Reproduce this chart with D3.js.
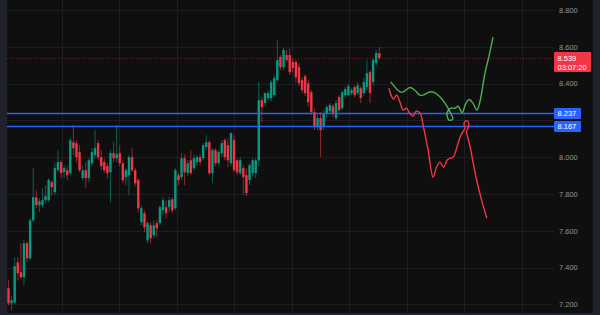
<!DOCTYPE html>
<html><head><meta charset="utf-8">
<script src="https://cdn.jsdelivr.net/npm/d3@7"></script>
<style>html,body{margin:0;padding:0;background:#0f0f0f;overflow:hidden}</style>
</head><body><svg id="c" width="600" height="315"></svg>
<script>
// ---- data ----
const opens=[7.287,7.205,7.211,7.428,7.374,7.347,7.532,7.450,7.657,7.782,
7.739,7.739,7.766,7.766,7.864,7.809,7.929,7.973,7.918,7.929,
7.913,8.081,8.076,8.027,7.886,7.929,7.886,7.967,8.011,8.076,
8.000,7.973,7.951,7.918,8.022,7.994,8.022,7.967,7.891,7.902,
8.000,7.929,7.875,7.646,7.695,7.548,7.630,7.575,7.641,7.641,
7.711,7.728,7.728,7.771,7.722,7.902,7.891,7.994,7.913,7.983,
7.940,7.973,8.000,7.994,8.054,8.081,7.913,8.038,7.967,8.022,
8.092,8.065,7.967,8.092,7.983,7.913,7.940,7.902,7.875,7.913,
7.913,7.983,8.310,8.294,8.321,8.321,8.337,8.419,8.544,8.489,
8.555,8.555,8.517,8.517,8.489,8.419,8.440,8.402,8.353,8.245,
8.163,8.212,8.163,8.239,8.250,8.277,8.212,8.326,8.266,8.337,
8.337,8.348,8.381,8.348,8.375,8.348,8.381,8.462,8.408,8.511,
8.566];
const closes=[7.205,7.222,7.407,7.369,7.347,7.532,7.450,7.657,7.782,7.739,
7.760,7.766,7.788,7.875,7.837,7.940,7.973,7.913,7.940,7.902,
8.092,8.049,8.000,7.929,7.929,7.886,7.983,8.027,8.049,8.000,
7.951,7.929,7.913,8.022,7.994,8.016,7.967,7.875,7.929,8.000,
7.929,7.858,7.722,7.722,7.619,7.641,7.559,7.630,7.613,7.728,
7.766,7.695,7.766,7.711,7.929,7.875,7.994,7.918,7.967,7.913,
7.994,8.000,7.973,8.065,8.081,7.913,8.038,7.967,8.027,8.076,
8.000,7.983,8.130,7.929,7.918,7.983,7.891,7.804,7.956,7.983,
7.983,8.310,8.272,8.348,8.348,8.408,8.430,8.528,8.489,8.582,
8.528,8.462,8.484,8.435,8.402,8.364,8.348,8.299,8.245,8.163,
8.212,8.147,8.239,8.272,8.283,8.239,8.294,8.256,8.353,8.370,
8.386,8.364,8.337,8.391,8.321,8.408,8.457,8.348,8.528,8.566,
8.539];
const highs=[7.330,7.243,7.456,7.456,7.532,7.548,7.543,7.668,7.940,7.820,
7.777,7.831,7.847,7.886,7.875,7.967,8.038,7.983,7.956,7.951,
8.103,8.174,8.092,8.065,7.956,7.973,7.994,8.049,8.147,8.092,
8.038,7.994,7.967,8.038,8.081,8.174,8.065,7.983,7.940,8.011,
8.049,7.940,7.886,7.739,7.711,7.652,7.646,7.657,7.657,7.739,
7.782,7.766,7.782,7.782,7.940,7.918,8.022,8.016,7.983,8.038,
8.011,8.011,8.016,8.076,8.119,8.092,8.049,8.049,8.038,8.092,
8.103,8.103,8.136,8.119,7.994,8.000,7.956,7.940,7.967,7.994,
7.994,8.408,8.326,8.353,8.364,8.419,8.446,8.636,8.555,8.593,
8.582,8.593,8.538,8.528,8.511,8.435,8.451,8.419,8.364,8.266,
8.228,8.245,8.256,8.283,8.294,8.288,8.310,8.337,8.364,8.381,
8.397,8.375,8.391,8.408,8.386,8.430,8.528,8.473,8.538,8.582,
8.598];
const lows=[7.195,7.167,7.200,7.330,7.336,7.303,7.428,7.439,7.646,7.722,
7.700,7.728,7.749,7.755,7.793,7.798,7.918,7.886,7.886,7.875,
7.902,8.011,7.973,7.918,7.875,7.831,7.864,7.951,7.994,7.983,
7.929,7.913,7.886,7.755,7.973,7.973,7.951,7.858,7.847,7.793,
7.918,7.842,7.700,7.630,7.592,7.532,7.532,7.559,7.565,7.630,
7.684,7.668,7.700,7.695,7.711,7.847,7.875,7.847,7.896,7.902,
7.929,7.956,7.956,7.983,8.038,7.902,7.858,7.951,7.956,8.005,
7.983,7.945,7.951,7.918,7.902,7.902,7.793,7.788,7.847,7.896,
7.886,7.951,8.190,8.277,8.310,8.304,8.326,8.408,8.473,8.473,
8.517,8.446,8.462,8.408,8.386,8.348,8.332,8.277,8.228,8.147,
8.147,8.000,8.147,8.212,8.239,8.218,8.201,8.245,8.256,8.321,
8.332,8.337,8.326,8.337,8.294,8.332,8.364,8.294,8.391,8.500,
8.528];
// hand-drawn projection paths (bar index, price)
const greenIdx=[123.7,126.7,127.8,129.9,131.5,133.1,134.2,136.4,138.0,139.6,141.3,142.9,143.8,142.6,141.9,143.2,144.5,145.5,146.8,147.9,149.0,150.3,151.6,152.6,154.2,155.5,156.8];
const greenPx=[8.409,8.355,8.355,8.379,8.364,8.337,8.337,8.355,8.350,8.328,8.292,8.245,8.207,8.201,8.239,8.266,8.266,8.277,8.242,8.288,8.313,8.294,8.256,8.304,8.457,8.549,8.653];
const redIdx=[123.1,123.8,124.6,125.6,126.7,127.7,128.8,129.8,130.9,132.0,133.2,134.3,135.8,137.4,138.5,139.6,140.8,141.9,142.9,143.9,145.5,146.4,147.7,147.4,148.2,149.0,148.7,148.2,148.7,149.4,151.5,153.1,154.8];
const redPx=[8.375,8.337,8.315,8.337,8.299,8.256,8.266,8.239,8.223,8.250,8.239,8.163,8.038,7.891,7.945,7.973,7.945,7.983,7.994,8.000,8.076,8.119,8.158,8.185,8.198,8.185,8.158,8.141,8.103,8.054,7.875,7.766,7.668];
const levels=[8.237,8.167];
const yTicks=[7.2,7.4,7.6,7.8,8.0,8.2,8.4,8.6,8.8];
const timeGrid=[17.3,35.9,54.5,73.1,91.7,110.3,128.9,147.5,166.1];
const lastPrice=8.539, countdown="03:07:20";

// ---- drawing ----
const W=600,H=315, plotL=7, plotR=593, gridR=553, plotB=313;
const UP="#089981", DN="#f23645";
const svg=d3.select("#c");
const x=d3.scaleLinear().domain([0,120]).range([8.5,379.3]);
const y=d3.scaleLinear().domain([7.2,8.8]).range([304.3,10]);
const font="'Liberation Sans', Arial, sans-serif";

svg.append("rect").attr("width",W).attr("height",H).attr("fill","#0f0f0f");

const grid=svg.append("g").attr("stroke","#1d1e22").attr("stroke-width",1);
grid.selectAll(".h").data(yTicks).join("line")
  .attr("x1",plotL).attr("x2",gridR)
  .attr("y1",d=>Math.round(y(d))+0.5).attr("y2",d=>Math.round(y(d))+0.5);
grid.selectAll(".v").data(timeGrid).join("line")
  .attr("y1",0).attr("y2",plotB)
  .attr("x1",d=>Math.round(x(d))+0.5).attr("x2",d=>Math.round(x(d))+0.5);

// last price dotted line
svg.append("line").attr("x1",plotL).attr("x2",gridR)
  .attr("y1",Math.round(y(lastPrice))+0.5).attr("y2",Math.round(y(lastPrice))+0.5)
  .attr("stroke",DN).attr("stroke-opacity",0.45).attr("stroke-dasharray","1,2");

// candles
const bars=d3.range(opens.length).map(i=>({i,o:opens[i],h:highs[i],l:lows[i],c:closes[i]}));
const cg=svg.append("g");
cg.selectAll(".wick").data(bars).join("line")
  .attr("x1",d=>x(d.i)).attr("x2",d=>x(d.i))
  .attr("y1",d=>y(d.h)).attr("y2",d=>y(d.l))
  .attr("stroke",d=>d.c>=d.o?UP:DN).attr("stroke-width",1).attr("stroke-opacity",0.6);
cg.selectAll(".body").data(bars).join("rect")
  .attr("x",d=>x(d.i)-1.2).attr("width",2.4)
  .attr("y",d=>y(Math.max(d.o,d.c)))
  .attr("height",d=>Math.max(1,Math.abs(y(d.o)-y(d.c))))
  .attr("fill",d=>d.c>=d.o?UP:DN);

// horizontal levels
svg.selectAll(".lvl").data(levels).join("line")
  .attr("x1",plotL).attr("x2",554)
  .attr("y1",d=>y(d)).attr("y2",d=>y(d))
  .attr("stroke","#2962ff").attr("stroke-width",1.6);

// projection paths
const line=d3.line().x(d=>x(d[0])).y(d=>y(d[1])).curve(d3.curveCatmullRom.alpha(0.5));
svg.append("path").datum(greenIdx.map((v,k)=>[v,greenPx[k]]))
  .attr("d",line).attr("fill","none").attr("stroke","#4caf50").attr("stroke-width",1.4);
svg.append("path").datum(redIdx.map((v,k)=>[v,redPx[k]]))
  .attr("d",line).attr("fill","none").attr("stroke","#f23645").attr("stroke-width",1.4);

// price axis (labels hidden where a level label covers them)
const shown=yTicks.filter(t=>levels.every(l=>Math.abs(y(t)-y(l))>9));
const ax=svg.append("g").attr("transform","translate(559,0)")
  .call(d3.axisRight(y).tickValues(shown).tickFormat(d3.format(".3f")).tickSize(0).tickPadding(0));
ax.select(".domain").remove();
ax.selectAll("text").attr("fill","#8f929b").attr("font-size","7.5px").attr("font-family",font);

// level labels
const lg=svg.selectAll(".lbl").data(levels).join("g");
lg.append("rect").attr("x",554).attr("width",27).attr("y",d=>y(d)-5.5).attr("height",11).attr("rx",1).attr("fill","#2962ff");
lg.append("text").attr("x",557.5).attr("y",d=>y(d)).attr("dy","0.35em").text(d=>d3.format(".3f")(d))
  .attr("fill","#fff").attr("font-size","7.5px").attr("font-family",font);

// last price label
svg.append("rect").attr("x",554).attr("y",y(lastPrice)-6).attr("width",37).attr("height",20).attr("rx",1).attr("fill",DN);
svg.append("text").attr("x",557.5).attr("y",y(lastPrice)).attr("dy","0.35em").text(d3.format(".3f")(lastPrice))
  .attr("fill","#fff").attr("font-size","7.5px").attr("font-family",font);
svg.append("text").attr("x",557.5).attr("y",y(lastPrice)+9).attr("dy","0.35em").text(countdown)
  .attr("fill","#fff").attr("font-size","7.5px").attr("font-family",font);

// frame strips
svg.append("rect").attr("x",0).attr("y",0).attr("width",plotL).attr("height",H).attr("fill","#1f222b");
svg.append("rect").attr("x",plotR).attr("y",0).attr("width",W-plotR).attr("height",H).attr("fill","#1f222b");
svg.append("rect").attr("x",0).attr("y",plotB).attr("width",W).attr("height",H-plotB).attr("fill","#1f222b");
</script></body></html>
